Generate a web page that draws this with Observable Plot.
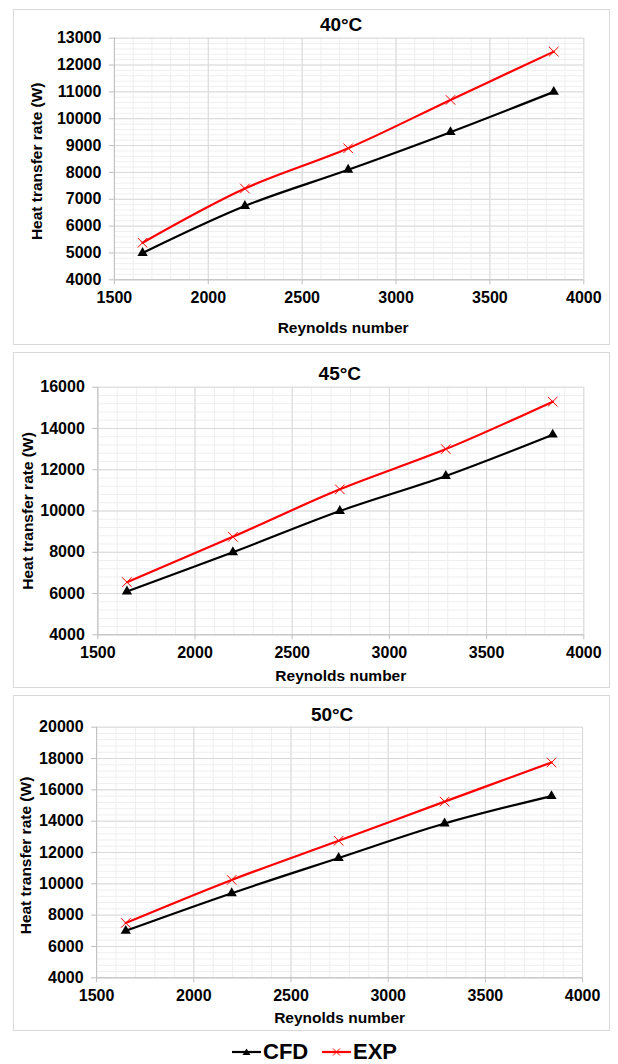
<!DOCTYPE html>
<html>
<head>
<meta charset="utf-8">
<script src="https://cdn.jsdelivr.net/npm/d3@7"></script>
<script src="https://cdn.jsdelivr.net/npm/@observablehq/plot@0.6"></script>
<style>
  body { margin: 0; background: #fff; }
  #root { position: relative; width: 618px; height: 1064px; background: #fff; overflow: hidden;
          font-family: "Liberation Sans", Arial, sans-serif; }
  .box { position: absolute; left: 13px; width: 597px; height: 336px; border: 1px solid #d9d9d9; box-sizing: border-box; }
  .plot { position: absolute; left: 13px; }
  .legend { position: absolute; top: 1039px; height: 26px; display: flex; align-items: center;
            font-weight: bold; font-size: 22px; color: #000; }
</style>
</head>
<body>
<div id="root"></div>
<script>
// ---------- data ----------
const reynolds = [1650, 2195, 2745, 3290, 3840];
const cfd40 = [5000, 6750, 8100, 9500, 11000];
const exp40 = [5380, 7400, 8900, 10700, 12500];
const cfd45 = [6100, 8000, 10000, 11700, 13700];
const exp45 = [6550, 8750, 11050, 13000, 15300];
const cfd50 = [7000, 9400, 11650, 13850, 15600];
const exp50 = [7500, 10250, 12750, 15250, 17750];
const titles = ["40°C", "45°C", "50°C"];
const xTicks = [1500, 2000, 2500, 3000, 3500, 4000];
const yTicks40 = [4000, 5000, 6000, 7000, 8000, 9000, 10000, 11000, 12000, 13000];
const yTicks45 = [4000, 6000, 8000, 10000, 12000, 14000, 16000];
const yTicks50 = [4000, 6000, 8000, 10000, 12000, 14000, 16000, 18000, 20000];
const seriesNames = ["CFD", "EXP"];
const xLabel = "Reynolds number";
const yLabel = "Heat transfer rate (W)";

const root = document.getElementById("root");

const panels = [
  {title: titles[0], cfd: cfd40, exp: exp40, yTicks: yTicks40, top: 9,
   mL: 100.9, mR: 26.7, mT: 28.7, mB: 65.7, titleDx: -8, titleDy: -13.7, xlDx: -6, xlDy: 48.7, ylDx: -77.7, ylDy: 2.3},
  {title: titles[1], cfd: cfd45, exp: exp45, yTicks: yTicks45, top: 352,
   mL: 84.3, mR: 26.7, mT: 34.7, mB: 53.7, titleDx: -1, titleDy: -13.7, xlDx: 0, xlDy: 41.7, ylDx: -70.2, ylDy: 0},
  {title: titles[2], cfd: cfd50, exp: exp50, yTicks: yTicks50, top: 695,
   mL: 83.1, mR: 27.9, mT: 31.7, mB: 53.7, titleDx: -7.5, titleDy: -12.7, xlDx: 0, xlDy: 40.7, ylDx: -70.2, ylDy: 3}
];

panels.forEach(p => {
  const H = 336, W = 597;
  const yMin = p.yTicks[0], yMax = p.yTicks[p.yTicks.length - 1];
  const yStep = p.yTicks[1] - p.yTicks[0];
  const xMinor = d3.range(xTicks[0], xTicks[xTicks.length - 1] + 1, 100);
  const yMinor = d3.range(yMin, yMax + 1, yStep / 5);
  const rows = [];
  reynolds.forEach((r, i) => {
    rows.push({re: r, q: p.cfd[i], s: seriesNames[0]});
    rows.push({re: r, q: p.exp[i], s: seriesNames[1]});
  });
  const cfdRows = rows.filter(d => d.s === "CFD");
  const expRows = rows.filter(d => d.s === "EXP");

  const plot = Plot.plot({
    width: W, height: H,
    marginLeft: p.mL, marginRight: p.mR, marginTop: p.mT, marginBottom: p.mB,
    style: {fontFamily: "'Liberation Sans', Arial, sans-serif", fontWeight: "bold", fontSize: "16px", color: "#000", background: "transparent"},
    x: {domain: [xTicks[0], xTicks[xTicks.length - 1]]},
    y: {domain: [yMin, yMax]},
    marks: [
      Plot.ruleX(xMinor, {stroke: "#efefef", strokeWidth: 1}),
      Plot.ruleY(yMinor, {stroke: "#efefef", strokeWidth: 1}),
      Plot.ruleX(xTicks, {stroke: "#d9d9d9", strokeWidth: 1}),
      Plot.ruleY(p.yTicks, {stroke: "#d9d9d9", strokeWidth: 1}),
      Plot.axisX({ticks: xTicks, tickFormat: d => String(d), tickSize: 5, tickPadding: 7, stroke: "#bfbfbf", fill: "#000", label: null, fontSize: 16}),
      Plot.axisY({ticks: p.yTicks, tickFormat: d => String(d), tickSize: 5, tickPadding: 8, stroke: "#bfbfbf", fill: "#000", label: null, fontSize: 16}),
      Plot.ruleX([xTicks[0]], {stroke: "#bfbfbf"}),
      Plot.ruleY([yMin], {stroke: "#bfbfbf"}),
      Plot.line(cfdRows, {x: "re", y: "q", stroke: "#000", strokeWidth: 2.2, curve: "catmull-rom"}),
      Plot.line(expRows, {x: "re", y: "q", stroke: "#ff0000", strokeWidth: 2.2, curve: "catmull-rom"}),
      Plot.dot(cfdRows, {x: "re", y: "q", symbol: "triangle", r: 3.8, fill: "#000", stroke: "none"}),
      Plot.dot(expRows, {x: "re", y: "q", symbol: "times", r: 4.4, stroke: "#ff0000", strokeWidth: 1}),
      Plot.text([p.title], {frameAnchor: "top", lineAnchor: "middle", textAnchor: "middle", dx: p.titleDx, dy: p.titleDy, fontSize: 19, fontWeight: "bold", fill: "#000"}),
      Plot.text([xLabel], {frameAnchor: "bottom", lineAnchor: "middle", textAnchor: "middle", dx: p.xlDx, dy: p.xlDy, fontSize: 15.5, fontWeight: "bold", fill: "#000"}),
      Plot.text([yLabel], {frameAnchor: "left", lineAnchor: "middle", textAnchor: "middle", dx: p.ylDx, dy: p.ylDy, rotate: -90, fontSize: 15.5, fontWeight: "bold", fill: "#000"})
    ]
  });
  plot.classList.add("plot");
  plot.style.top = p.top + "px";
  root.appendChild(plot);

  const box = document.createElement("div");
  box.className = "box";
  box.style.top = p.top + "px";
  root.appendChild(box);
});

// ---------- legend ----------
function legendItem(left, name, color, kind) {
  const div = document.createElement("div");
  div.className = "legend";
  div.style.left = left + "px";
  const ns = "http://www.w3.org/2000/svg";
  const svg = document.createElementNS(ns, "svg");
  svg.setAttribute("width", 30); svg.setAttribute("height", 26);
  const ln = document.createElementNS(ns, "line");
  ln.setAttribute("x1", 0); ln.setAttribute("x2", 29); ln.setAttribute("y1", 13); ln.setAttribute("y2", 13);
  ln.setAttribute("stroke", color); ln.setAttribute("stroke-width", 2.2);
  svg.appendChild(ln);
  if (kind === "triangle") {
    const t = document.createElementNS(ns, "path");
    t.setAttribute("d", "M14.5,9.5 L18.5,16 L10.5,16 Z");
    t.setAttribute("fill", color);
    svg.appendChild(t);
  } else {
    const c = document.createElementNS(ns, "path");
    c.setAttribute("d", "M11,9.5 L18,16.5 M18,9.5 L11,16.5");
    c.setAttribute("stroke", color); c.setAttribute("stroke-width", 1);
    svg.appendChild(c);
  }
  div.appendChild(svg);
  const span = document.createElement("span");
  span.textContent = name;
  span.style.marginLeft = "1px";
  div.appendChild(span);
  root.appendChild(div);
}
legendItem(232, seriesNames[0], "#000", "triangle");
legendItem(322, seriesNames[1], "#ff0000", "times");
</script>
</body>
</html>
